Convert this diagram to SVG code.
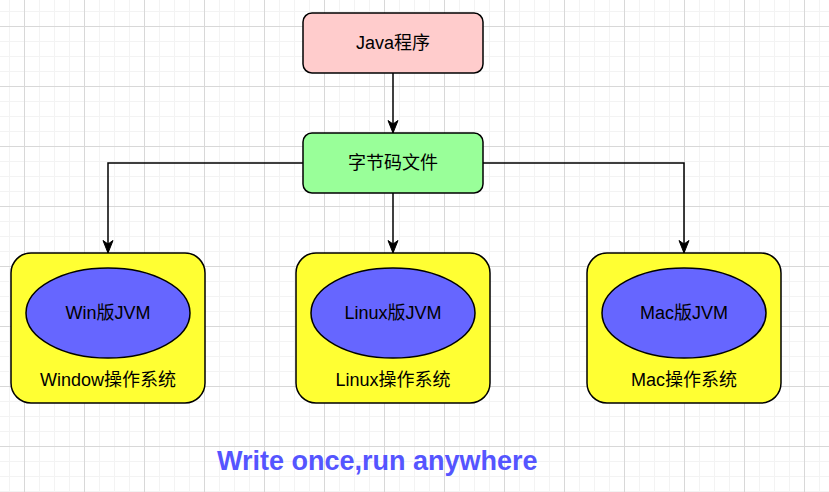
<svg xmlns="http://www.w3.org/2000/svg" width="829" height="492" viewBox="0 0 829 492">
<style>
.box{stroke:#000;stroke-width:1.5}
.lbl{font-family:"Liberation Sans","Noto Sans CJK SC",sans-serif;font-size:18px;fill:#000;text-anchor:middle}
.edge{fill:none;stroke:#000;stroke-width:1.5}
.title{font-family:"Liberation Sans",Arial,sans-serif;font-size:27px;font-weight:bold;fill:#5555FF}
</style>
<defs>
<pattern id="grid" patternUnits="userSpaceOnUse" x="24" y="26" width="60" height="60">
<rect x="15" y="0" width="1" height="60" fill="#f3f3f3"/>
<rect x="30" y="0" width="1" height="60" fill="#f3f3f3"/>
<rect x="45" y="0" width="1" height="60" fill="#f3f3f3"/>
<rect x="0" y="15" width="60" height="1" fill="#f3f3f3"/>
<rect x="0" y="30" width="60" height="1" fill="#f3f3f3"/>
<rect x="0" y="45" width="60" height="1" fill="#f3f3f3"/>
<rect x="0" y="0" width="1" height="60" fill="#d8d8d8"/>
<rect x="0" y="0" width="60" height="1" fill="#d8d8d8"/>
</pattern>
<marker id="arr" markerUnits="userSpaceOnUse" markerWidth="14" markerHeight="12" refX="13" refY="5.5" orient="auto" viewBox="0 0 14 11">
<path d="M13,5.5 L0.5,0.5 L4,5.5 L0.5,10.5 Z" fill="#000" stroke="#000" stroke-width="1"/>
</marker>
</defs>
<rect width="829" height="492" fill="#fff"/>
<rect width="829" height="492" fill="url(#grid)"/>
<g id="connectors">
<path class="edge" d="M393,73 V133" marker-end="url(#arr)"/>
<path class="edge" d="M393,193 V253" marker-end="url(#arr)"/>
<path class="edge" d="M303,163 H108 V253" marker-end="url(#arr)"/>
<path class="edge" d="M483,163 H684 V253" marker-end="url(#arr)"/>
</g>
<g id="java">
<rect class="box" x="303" y="13" width="180" height="60" rx="9" fill="#FFCCCC"/>
<text class="lbl" x="393" y="49">Java程序</text>
</g>
<g id="bytecode">
<rect class="box" x="303" y="133" width="180" height="60" rx="9" fill="#99FF99"/>
<text class="lbl" x="393" y="169">字节码文件</text>
</g>
<g id="win">
<rect class="box" x="11" y="253" width="194" height="150" rx="20" fill="#FFFF33"/>
<ellipse class="box" cx="108" cy="313" rx="82" ry="45" fill="#6666FF"/>
<text class="lbl" x="108" y="319">Win版JVM</text>
<text class="lbl" x="108" y="386">Window操作系统</text>
</g>
<g id="linux">
<rect class="box" x="296" y="253" width="194" height="150" rx="20" fill="#FFFF33"/>
<ellipse class="box" cx="393" cy="313" rx="82" ry="45" fill="#6666FF"/>
<text class="lbl" x="393" y="319">Linux版JVM</text>
<text class="lbl" x="393" y="386">Linux操作系统</text>
</g>
<g id="mac">
<rect class="box" x="587" y="253" width="194" height="150" rx="20" fill="#FFFF33"/>
<ellipse class="box" cx="684" cy="313" rx="82" ry="45" fill="#6666FF"/>
<text class="lbl" x="684" y="319">Mac版JVM</text>
<text class="lbl" x="684" y="386">Mac操作系统</text>
</g>
<text class="title" x="217" y="470">Write once,run anywhere</text>
</svg>
